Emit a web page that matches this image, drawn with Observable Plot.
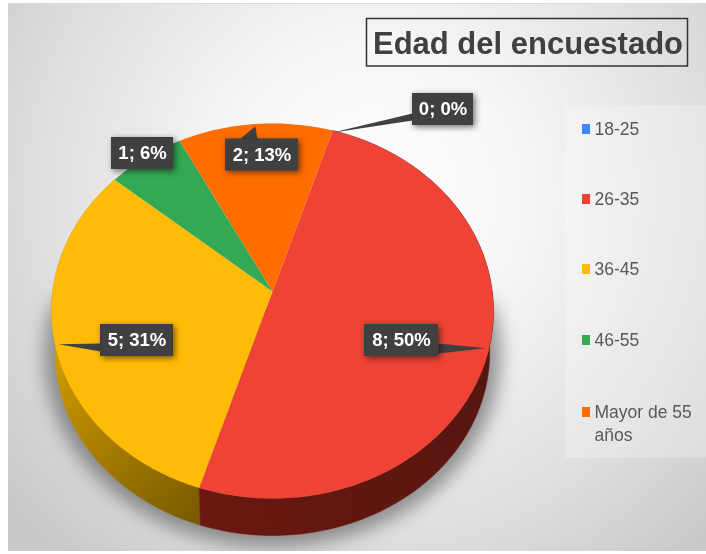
<!DOCTYPE html>
<html lang="es">
<head>
<meta charset="utf-8">
<script src="https://cdn.jsdelivr.net/npm/d3@7"></script>
<script src="https://cdn.jsdelivr.net/npm/@observablehq/plot@0.6"></script>
<style>
html,body{margin:0;padding:0;background:#fff;width:706px;height:554px;overflow:hidden}
#wrap{position:relative;width:706px;height:554px}
#bg{position:absolute;left:8px;top:3px;right:0;bottom:3px;border-top:1px solid #d8d8d8;
background:radial-gradient(ellipse 470px 480px at 365px 190px,#ffffff 0%,#f7f7f7 30%,#dedede 72%,#c9c9c9 100%)}
#chart{position:absolute;left:0;top:0}
#strip{position:absolute;left:0;right:0;bottom:0;height:3px;background:#fff}
svg{display:block;background:transparent!important;filter:blur(.35px)}
</style>
</head>
<body>
<div id="wrap"><div id="bg"></div><div id="chart"></div><div id="strip"></div></div>
<script>
const chartTitle = "Edad del encuestado";
const categories = ["18-25", "26-35", "36-45", "46-55", "Mayor de 55\naños"];
const counts = [0, 8, 5, 1, 2];
const percents = ["0%", "50%", "31%", "6%", "13%"];
const colors = ["#4285f4", "#ee4335", "#ffbb05", "#34a853", "#ff6d01"];

// layout only
const firstSliceDeg = 17.5;
const topDisk = {cx: 272, cy: 291, A: 219.8, B: 185.5, k: 0.104};
const baseDisk = {cx: 272, cy: 333, A: 216, B: 181, k: 0.104};
const labelCenters = [[442.5, 109], [401, 340], [136.5, 340], [142, 153], [261.5, 154.5]];
const labelWidths = [61, 74, 73, 62, 73];
const labelHeight = 32;
const tailBases = [[[412, 113], [412, 120]], [[438, 343], [438, 353]], [[100, 343], [100, 351]], null, [[239, 139], [257, 139]]];
const legendRows = [129, 199, 269, 340, 412];
const titleBox = {x1: 366.5, x2: 687.5, y1: 18.5, y2: 66};
const legendPanel = {x1: 565, x2: 706, y1: 105, y2: 458};

const project = (a, d, r = 1) => {
  const X = r * Math.sin(a), Y = r * Math.cos(a), w = 1 + d.k * Y;
  return [d.cx + d.A * X / w, d.cy - d.B * Y / w];
};
const arcs = d3.pie().sort(null).value(d => d)
  .startAngle(firstSliceDeg * Math.PI / 180)
  .endAngle(firstSliceDeg * Math.PI / 180 + 2 * Math.PI)(counts);

const arcPts = (s, d) => {
  const n = Math.max(2, Math.ceil((s.endAngle - s.startAngle) * 60));
  return d3.range(n + 1).map(i => project(s.startAngle + (s.endAngle - s.startAngle) * i / n, d));
};
const sliceTop = s => [[topDisk.cx, topDisk.cy], ...arcPts(s, topDisk)];
const sliceSide = s => [...arcPts(s, topDisk), ...arcPts(s, baseDisk).reverse()];

const topRows = arcs.flatMap((s, i) => counts[i] ? sliceTop(s).map(p => ({x: p[0], y: p[1], i, c: colors[i]})) : []);
const poly = pts => pts.map(p => ({x: p[0], y: p[1]}));

const shadowRows = poly(d3.range(0, 201).map(i => project(Math.PI / 2 - 0.17 + i * Math.PI / 180, baseDisk, 1.05)));
const sideFills = {1: "url(#redSide)", 2: "url(#goldSide)"};
const sideMarks = [2, 1].map(i => Plot.line(poly(sliceSide(arcs[i])), {
  x: "x", y: "y", fill: sideFills[i], stroke: sideFills[i], strokeWidth: 0.5, curve: "linear"
}));

const tails = arcs.flatMap((s, i) => {
  if (!tailBases[i]) return [];
  const tip = project((s.startAngle + s.endAngle) / 2, topDisk, 0.985);
  return [tailBases[i][0], tip, tailBases[i][1]].map(p => ({x: p[0], y: p[1], i}));
});

const labels = counts.map((c, i) => ({
  text: `${c}; ${percents[i]}`,
  x: labelCenters[i][0], y: labelCenters[i][1],
  x1: labelCenters[i][0] - labelWidths[i] / 2, x2: labelCenters[i][0] + labelWidths[i] / 2,
  y1: labelCenters[i][1] - labelHeight / 2, y2: labelCenters[i][1] + labelHeight / 2
}));
const legend = categories.map((t, i) => ({t, y: legendRows[i], c: colors[i]}));
const font = "Liberation Sans, Arial, sans-serif";

const svg = Plot.plot({
  width: 706, height: 554,
  marginTop: 0, marginRight: 0, marginBottom: 0, marginLeft: 0,
  x: {domain: [0, 706], range: [0, 706], axis: null},
  y: {domain: [0, 554], range: [0, 554], axis: null},
  color: {type: "identity"},
  style: {background: "transparent"},
  marks: [
    Plot.rect([legendPanel], {x1: "x1", x2: "x2", y1: "y1", y2: "y2", fill: "#fff", fillOpacity: 0.25}),
    Plot.line(shadowRows, {x: "x", y: "y", fill: "#555", fillOpacity: 0.6, stroke: "none", curve: "linear", imageFilter: "blur(9px)"}),
    ...sideMarks,
    Plot.line(topRows, {x: "x", y: "y", z: "i", fill: "c", stroke: "none", curve: "linear"}),
    Plot.line(tails, {x: "x", y: "y", z: "i", fill: "#404040", stroke: "none", curve: "linear"}),
    Plot.rect(labels, {x1: "x1", x2: "x2", y1: "y1", y2: "y2", fill: "#404040",
      imageFilter: "drop-shadow(2px 2px 3px rgba(0,0,0,.55))"}),
    Plot.text(labels, {x: "x", y: "y", text: "text", fill: "#fff", fontFamily: font, fontWeight: 700, fontSize: 18.5}),
    Plot.rect([titleBox], {x1: "x1", x2: "x2", y1: "y1", y2: "y2", fill: "none", stroke: "#333", strokeWidth: 1.5}),
    Plot.text([chartTitle], {x: [527.5], y: [44], text: d => d, fill: "#404040", fontFamily: font, fontWeight: 700, fontSize: 31}),
    Plot.rect(legend, {x1: 582, x2: 590, y1: d => d.y - 5, y2: d => d.y + 5, fill: "c"}),
    Plot.text(legend, {x: 594, y: "y", text: "t", textAnchor: "start", lineAnchor: "top", dy: -10, lineHeight: 1.27,
      fill: "#595959", fontFamily: font, fontSize: 17.5})
  ]
});
svg.insertAdjacentHTML("afterbegin", `<defs>
<linearGradient id="goldSide" gradientUnits="userSpaceOnUse" x1="55" y1="350" x2="200" y2="510">
<stop offset="0" stop-color="#d09c00"/><stop offset="1" stop-color="#7a5c00"/></linearGradient>
<linearGradient id="redSide" gradientUnits="userSpaceOnUse" x1="200" y1="500" x2="490" y2="400">
<stop offset="0" stop-color="#6a1810"/><stop offset="1" stop-color="#561610"/></linearGradient>
</defs>`);
document.getElementById("chart").append(svg);
</script>
</body>
</html>
